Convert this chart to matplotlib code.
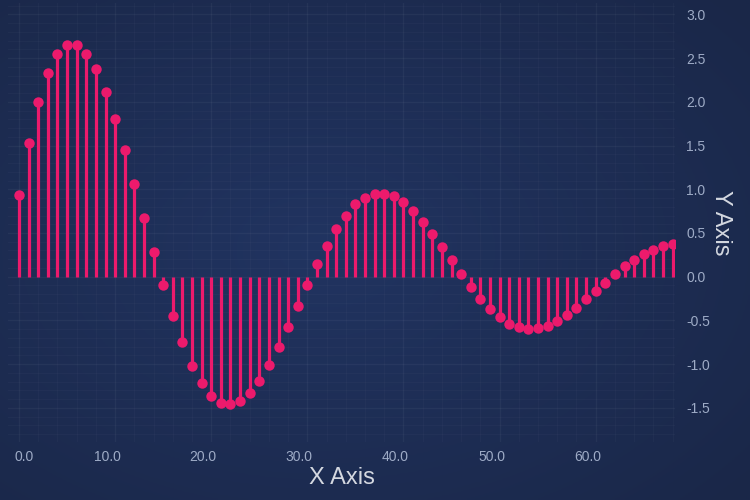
import numpy as np
import matplotlib.pyplot as plt
from matplotlib.ticker import MultipleLocator, FormatStrFormatter
from matplotlib.transforms import ScaledTranslation

plt.rcParams['font.family'] = ['Liberation Sans', 'DejaVu Sans']
plt.rcParams['axes.unicode_minus'] = False

# values, one per integer x
x_vals = list(range(69))
y_vals = [0.93, 1.53, 2.00, 2.33, 2.55, 2.65, 2.65, 2.55, 2.37, 2.11,
          1.80, 1.45, 1.06, 0.67, 0.28,
          -0.10, -0.45, -0.75, -1.02, -1.22, -1.36, -1.44, -1.46, -1.42, -1.33,
          -1.19, -1.01, -0.80, -0.57, -0.33, -0.09,
          0.14, 0.35, 0.54, 0.70, 0.83, 0.90, 0.95, 0.95, 0.92, 0.85,
          0.75, 0.63, 0.49, 0.34, 0.19, 0.03,
          -0.12, -0.26, -0.37, -0.46, -0.54, -0.58, -0.60, -0.59, -0.56, -0.51,
          -0.44, -0.36, -0.26, -0.16, -0.07, 0.03, 0.12, 0.19, 0.26, 0.31,
          0.35, 0.37]
x_ticks = [0, 10, 20, 30, 40, 50, 60]

stem_color = '#ec1a6c'
tick_color = '#9eabc6'
title_color = '#d4d8e0'

fig = plt.figure(figsize=(7.5, 5), dpi=100)
fig.patch.set_facecolor('#1b2949')

# radial-ish background gradient
bg = fig.add_axes([0, 0, 1, 1], zorder=-1)
bg.axis('off')
gx, gy = np.meshgrid(np.linspace(0, 1, 300), np.linspace(0, 1, 200))
d = np.sqrt(((gx - 0.43) / 0.75) ** 2 + ((gy - 0.5) / 0.75) ** 2)
d = np.clip(d, 0, 1)
c_in = np.array([33, 52, 97]) / 255
c_out = np.array([26, 39, 72]) / 255
img = c_in[None, None, :] * (1 - d[..., None]) + c_out[None, None, :] * d[..., None]
bg.imshow(img, extent=[0, 1, 0, 1], aspect='auto', origin='lower')
bg.set_xlim(0, 1)
bg.set_ylim(0, 1)

ax = fig.add_axes([8 / 750, 58 / 500, 667 / 750, 439 / 500])
ax.set_facecolor('none')

markerline, stemlines, baseline = ax.stem(x_vals, y_vals, basefmt=' ')
markerline.set_color(stem_color)
markerline.set_markersize(7.5)
markerline.set_markeredgewidth(0)
stemlines.set_color(stem_color)
stemlines.set_linewidth(2.3)

ax.set_xlim(-1.15, 68.25)
ax.set_ylim(-1.89, 3.13)

ax.set_xticks(x_ticks)
ax.xaxis.set_minor_locator(MultipleLocator(2))
ax.yaxis.set_major_locator(MultipleLocator(0.5))
ax.yaxis.set_minor_locator(MultipleLocator(0.1))
ax.xaxis.set_major_formatter(FormatStrFormatter('%.1f'))
ax.yaxis.set_major_formatter(FormatStrFormatter('%.1f'))

ax.yaxis.tick_right()
ax.yaxis.set_label_position('right')
ax.tick_params(axis='both', which='both', length=0, colors=tick_color, labelsize=10)
ax.tick_params(axis='x', pad=6)
ax.tick_params(axis='y', pad=8)

# the reference draws its x labels a little left of the ticks
for i, lab in enumerate(ax.get_xticklabels()):
    dx = 5 if i == 0 else -8
    lab.set_transform(lab.get_transform() + ScaledTranslation(dx / 100, 0, fig.dpi_scale_trans))

ax.grid(True, which='major', color='#ffffff', alpha=0.045, linewidth=1)
ax.grid(True, which='minor', color='#ffffff', alpha=0.025, linewidth=0.8)
ax.set_axisbelow(True)

for s in ax.spines.values():
    s.set_visible(False)

ax.set_xlabel('X Axis', color=title_color, fontsize=17, labelpad=2)
ax.set_ylabel('Y Axis', color=title_color, fontsize=17, rotation=-90, labelpad=16)

fig.savefig('out.png', dpi=100, facecolor=fig.get_facecolor())
